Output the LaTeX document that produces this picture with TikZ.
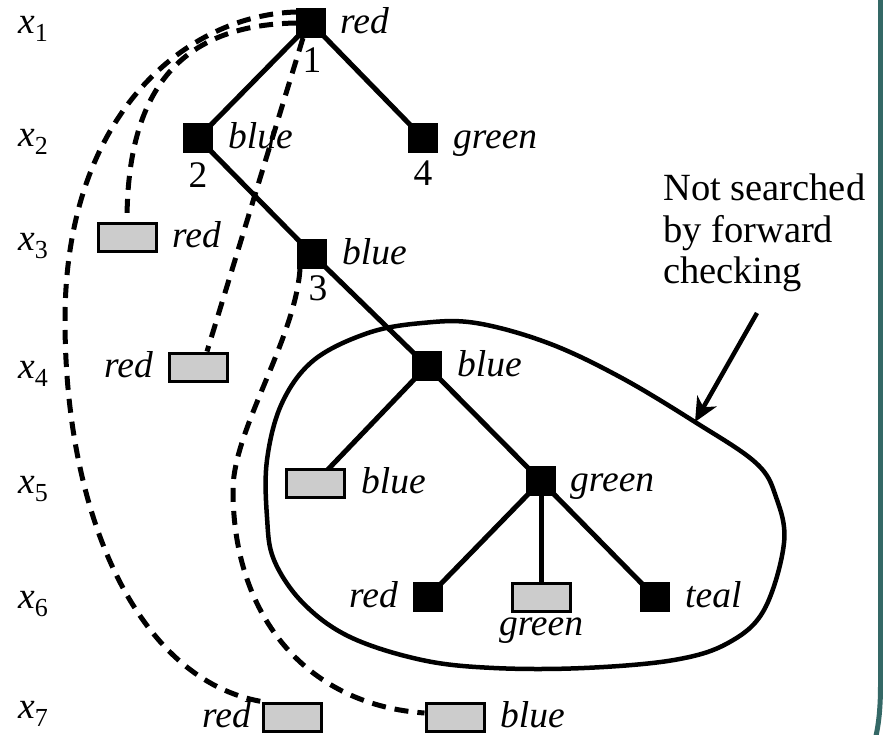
\documentclass[tikz,border=0pt]{standalone}
\usepackage{fontspec}
\IfFontExistsTF{LiberationSerif-Regular.ttf}
  {\setmainfont{LiberationSerif}[Extension=.ttf, UprightFont=*-Regular,
     ItalicFont=*-Italic, BoldFont=*-Bold, BoldItalicFont=*-BoldItalic]}
  {\setmainfont{Liberation Serif}}
\usetikzlibrary{arrows.meta,backgrounds}
\definecolor{frameteal}{RGB}{52,104,102}
\definecolor{boxgray}{RGB}{204,204,204}
\newcommand{\xvar}[1]{{\itshape x}\raisebox{-8pt}{\fontsize{26}{26}\selectfont #1}}
\begin{document}
\begin{tikzpicture}[x=1pt,y=-1pt,
  val/.style={rectangle, fill=black, minimum size=30pt, inner sep=0pt, outer sep=0pt},
  pruned/.style={rectangle, draw=black, fill=boxgray, line width=3pt,
                 minimum width=58pt, minimum height=28pt, inner sep=0pt},
  lbl/.style={inner sep=0pt, font=\fontsize{37.5}{41}\selectfont\itshape},
  num/.style={inner sep=0pt, font=\fontsize{37.5}{41}\selectfont},
  varlbl/.style={inner sep=0pt, font=\fontsize{37.5}{41}\selectfont},
  note/.style={inner sep=0pt, align=left, font=\fontsize{38.5}{41.5}\selectfont},
  treeedge/.style={line width=5pt},
  fcedge/.style={line width=5pt, dash pattern=on 14pt off 9pt},
]
\useasboundingbox (0,0) rectangle (883,734);

% variable labels
\node[varlbl, anchor=base west] (v1) at (18,33)  {\xvar{1}};
\node[varlbl, anchor=base west] (v2) at (18,146) {\xvar{2}};
\node[varlbl, anchor=base west] (v3) at (18,250) {\xvar{3}};
\node[varlbl, anchor=base west] (v4) at (18,378) {\xvar{4}};
\node[varlbl, anchor=base west] (v5) at (18,493) {\xvar{5}};
\node[varlbl, anchor=base west] (v6) at (18,608) {\xvar{6}};
\node[varlbl, anchor=base west] (v7) at (18,718) {\xvar{7}};

% search tree nodes
\node[val] (n1) at (311,23)  {};
\node[val] (n2) at (198,138) {};
\node[val] (n4) at (423,138) {};
\node[val] (n3) at (312,254) {};
\node[val] (n5) at (427,366) {};
\node[val] (n6) at (541,481) {};
\node[val] (n7) at (428,597) {};
\node[val] (n9) at (655,597) {};

% pruned values
\node[pruned] (g3)  at (127,237) {};
\node[pruned] (g4)  at (198,367) {};
\node[pruned] (g5)  at (315,483) {};
\node[pruned] (g6)  at (541,597) {};
\node[pruned] (g7r) at (292,717) {};
\node[pruned] (g7b) at (455,717) {};

% value labels
\node[lbl, anchor=base west] (l1)  at (340,33)  {red};
\node[lbl, anchor=base west] (l2)  at (228,148) {blue};
\node[lbl, anchor=base west] (l4)  at (453,148) {green};
\node[lbl, anchor=base west] (l3)  at (342,264) {blue};
\node[lbl, anchor=base west] (lg3) at (172,247) {red};
\node[lbl, anchor=base east] (lg4) at (153,377) {red};
\node[lbl, anchor=base west] (l5)  at (457,376) {blue};
\node[lbl, anchor=base west] (lg5) at (361,493) {blue};
\node[lbl, anchor=base west] (l6)  at (570,491) {green};
\node[lbl, anchor=base east] (l7)  at (398,607) {red};
\node[lbl, anchor=base]      (lg6) at (541,635) {green};
\node[lbl, anchor=base west] (l9)  at (685,607) {teal};
\node[lbl, anchor=base east] (lg7r) at (251,727) {red};
\node[lbl, anchor=base west] (lg7b) at (500,727) {blue};

% visiting order
\node[num, anchor=base] (o1) at (312,72)  {1};
\node[num, anchor=base] (o2) at (198,187) {2};
\node[num, anchor=base] (o3) at (318,300) {3};
\node[num, anchor=base] (o4) at (423,185) {4};

% white sheet and tree edges behind the nodes
\begin{scope}[on background layer]
  \fill[white] (0,0) rectangle (883,734);
  \draw[treeedge] (n1.center) -- (n2.center);
  \draw[treeedge] (n1.center) -- (n4.center);
  \draw[treeedge] (n2.center) -- (n3.center);
  \draw[treeedge] (n3.center) -- (n5.center);
  \draw[treeedge] (n5.center) -- (g5.center);
  \draw[treeedge] (n5.center) -- (n6.center);
  \draw[treeedge] (n6.center) -- (n7.center);
  \draw[treeedge] (n6.center) -- (g6.center);
  \draw[treeedge] (n6.center) -- (n9.center);
\end{scope}

% backjumps to the conflicting assignments
\draw[fcedge] ([yshift=-4pt]n1.north west) .. controls (190,15) and (65,110) .. (65,320)
  .. controls (65,520) and (140,680) .. (g7r.north west);
\draw[fcedge] (n1.west) .. controls (180,25) and (127,90) .. (g3.north);
\draw[fcedge] ([xshift=-8pt]n1.south) -- ([xshift=9pt]g4.north);
\draw[fcedge] ([xshift=-12pt]n3.south) .. controls (295,340) and (233,430) .. (233,490)
  .. controls (233,620) and (310,705) .. ([yshift=4pt]g7b.west);

% region skipped by forward checking
\draw[line width=4.5pt] plot[smooth cycle, tension=0.6] coordinates {
  (368,333) (314,360) (282,403) (267,460) (267,517) (274,560) (303,603)
  (350,637) (422,660) (494,668) (584,668) (674,660) (728,643) (764,610)
  (784,543) (776,497) (756,463) (695,422) (620,377) (548,343) (476,323)
  (422,323)};

\node[note, anchor=north west] (note) at (663,174) {Not searched\\by forward\\checking};
\coordinate (tail) at (757,313);
\coordinate (tip) at (695,422);
\draw[line width=4.5pt, -{Stealth[length=24pt, width=22pt, inset=7pt]}] (tail) -- (tip);

% slide frame edge
\draw[frameteal, line width=5pt] (880.5,-5) -- (880.5,685) .. controls (880.5,712) and (878,728) .. (875,740);
\end{tikzpicture}
\end{document}
